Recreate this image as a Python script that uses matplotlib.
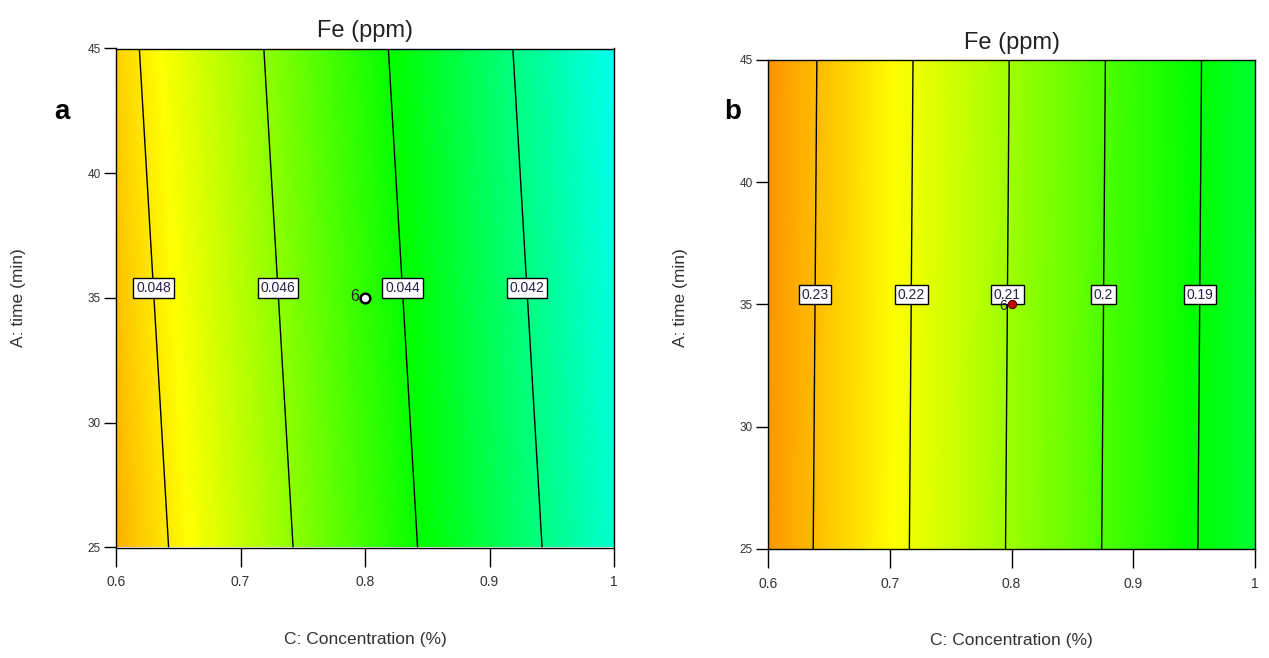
import numpy as np
import matplotlib
matplotlib.use("Agg")
import matplotlib.pyplot as plt
from matplotlib.colors import LinearSegmentedColormap

plt.rcParams['font.family'] = ['Liberation Sans', 'DejaVu Sans']

# ---- data ----
conc_range = [0.6, 1.0]          # C: Concentration (%)
time_range = [25, 45]            # A: time (min)
x_ticks = [0.6, 0.7, 0.8, 0.9, 1.0]
x_ticklabels = ["0.6", "0.7", "0.8", "0.9", "1"]
y_ticks = [25, 30, 35, 40, 45]

# fitted response surfaces (intercept, coef on C, coef on (time-35))
coef_a = [0.06061, -0.02, -0.0000235]
coef_b = [0.31085, -0.1266, 0.000019]
levels_a = [0.042, 0.044, 0.046, 0.048]
levels_b = [0.19, 0.20, 0.21, 0.22, 0.23]
fmt_a = {0.042: "0.042", 0.044: "0.044", 0.046: "0.046", 0.048: "0.048"}
fmt_b = {0.19: "0.19", 0.20: "0.2", 0.21: "0.21", 0.22: "0.22", 0.23: "0.23"}
# colour scale limits (value at blue end, value at red end)
clim_a = [0.0363, 0.0515]
clim_b = [0.1274, 0.2534]

design_point = (0.8, 35)
design_label = "6"
label_time = 35.4

cmap = LinearSegmentedColormap.from_list(
    "de", ["#0000FF", "#00FFFF", "#00FF00", "#FFFF00", "#FF0000"])

fig = plt.figure(figsize=(12.69, 6.58), dpi=100)
ax_a = fig.add_axes([116/1269, 1-547.5/658, 498/1269, 499/658])
ax_b = fig.add_axes([768/1269, 1-549/658, 487/1269, 489/658])

C = np.linspace(conc_range[0], conc_range[1], 300)
T = np.linspace(time_range[0], time_range[1], 200)
CC, TT = np.meshgrid(C, T)


def draw(ax, coef, levels, fmt, clim, marker_style, lab_off, lab_fs,
         ylab_x, ylab_y, xlab_y):
    Z = coef[0] + coef[1]*CC + coef[2]*(TT-35)
    ax.imshow(Z, extent=[C[0], C[-1], T[0], T[-1]], origin="lower",
              aspect="auto", cmap=cmap, vmin=clim[0], vmax=clim[1],
              interpolation="bilinear")
    cs = ax.contour(CC, TT, Z, levels=levels, colors="black", linewidths=1.0)
    pos = [((lv - coef[0] - coef[2]*(label_time-35))/coef[1], label_time)
           for lv in levels]
    labels = ax.clabel(cs, levels, fmt=fmt, manual=pos, inline=False,
                       fontsize=10, colors="#22224a")
    for t in labels:
        t.set_bbox(dict(facecolor="white", edgecolor="black", pad=2.0, lw=1.0))
        t.set_rotation(0)
        t.set_zorder(5)
    ax.set_xlim(conc_range)
    ax.set_ylim(time_range)
    ax.set_xticks(x_ticks)
    ax.set_xticklabels(x_ticklabels)
    ax.set_yticks(y_ticks)
    ax.tick_params(axis="x", direction="out", length=14, width=1, pad=6,
                   labelsize=10, labelcolor="#333333")
    ax.tick_params(axis="y", direction="out", length=9, width=1, pad=2,
                   labelsize=8.5, labelcolor="#333333")
    for s in ax.spines.values():
        s.set_linewidth(1.0)
    ax.set_title("Fe (ppm)", fontsize=17, color="#222222", pad=8)
    ax.set_xlabel("C: Concentration (%)", fontsize=12.5, color="#333333")
    ax.xaxis.set_label_coords(0.5, xlab_y)
    ax.set_ylabel("A: time (min)", fontsize=12.5, color="#333333")
    ax.yaxis.set_label_coords(ylab_x, ylab_y)
    ax.plot([design_point[0]], [design_point[1]], zorder=6, **marker_style)
    ax.annotate(design_label, design_point, xytext=lab_off,
                textcoords="offset points", ha="right", va="center",
                fontsize=lab_fs, color="#222222", zorder=7)


draw(ax_a, coef_a, levels_a, fmt_a, clim_a,
     dict(marker="o", ms=7, mfc="white", mec="black", mew=1.8, ls="none"),
     (-4, 1), 11.5, -0.181, 0.5, -0.17)
draw(ax_b, coef_b, levels_b, fmt_b, clim_b,
     dict(marker="o", ms=6, mfc="#cc0000", mec="#550000", mew=0.8, ls="none"),
     (-3, -1), 10, -0.164, 0.515, -0.172)

fig.text(62/1269, 1-112/658, "a", fontsize=20, fontweight="bold",
         ha="center", va="center")
fig.text(733/1269, 1-112/658, "b", fontsize=20, fontweight="bold",
         ha="center", va="center")

fig.savefig("out.png", dpi=100)
